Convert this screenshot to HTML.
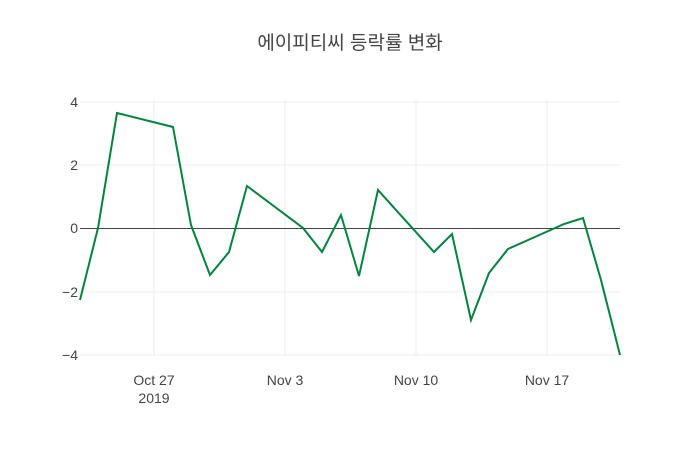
<!DOCTYPE html>
<html><head><meta charset="utf-8"><style>
html,body{margin:0;padding:0;background:#fff;}
svg{display:block;font-family:"Liberation Sans","Noto Sans CJK KR",sans-serif;}
</style></head><body>
<svg width="700" height="450" viewBox="0 0 700 450">
<rect width="700" height="450" fill="#fff"/>
<g stroke="#eee" stroke-width="1">
<line x1="154" y1="100" x2="154" y2="356"/>
<line x1="285" y1="100" x2="285" y2="356"/>
<line x1="416" y1="100" x2="416" y2="356"/>
<line x1="547" y1="100" x2="547" y2="356"/>
<line x1="80" y1="102" x2="620" y2="102"/>
<line x1="80" y1="165" x2="620" y2="165"/>
<line x1="80" y1="292" x2="620" y2="292"/>
<line x1="80" y1="355" x2="620" y2="355"/>
</g>
<line x1="80" y1="228.5" x2="620" y2="228.5" stroke="#444" stroke-width="1"/>
<polyline fill="none" stroke="#00843d" stroke-width="2" points="80,300 98,228 117,113 173,127 191,225 210,275 229,252 247,186 303,228 322,252 341,215 359,276 378,190 434,252 452,234 471,320 489,273 508,249 564,224 583,218 601,280 620,355"/>
<g font-size="14" fill="#444" text-anchor="end">
<text x="78" y="107">4</text>
<text x="78" y="170">2</text>
<text x="78" y="233">0</text>
<text x="78" y="297">−2</text>
<text x="78" y="360">−4</text>
</g>
<g font-size="14" fill="#444" text-anchor="middle">
<text x="154" y="385">Oct 27</text>
<text x="154" y="403">2019</text>
<text x="285" y="385">Nov 3</text>
<text x="416" y="385">Nov 10</text>
<text x="547" y="385">Nov 17</text>
</g>
<text x="350" y="49" font-size="19" fill="#444" text-anchor="middle">에이피티씨 등락률 변화</text>
</svg>
</body></html>
